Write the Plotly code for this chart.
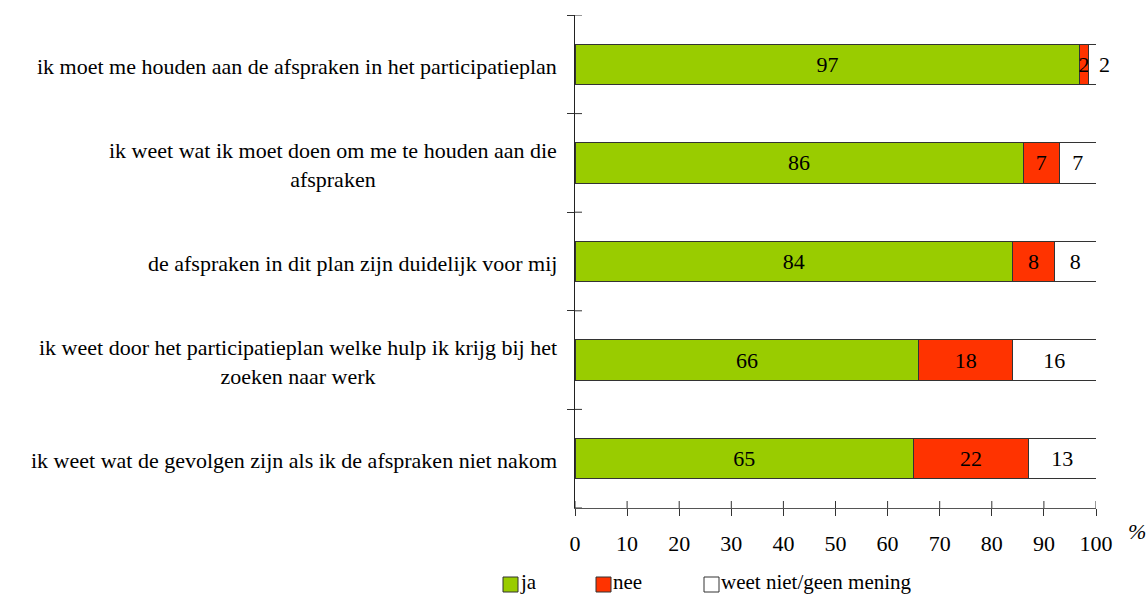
import plotly.graph_objects as go

categories = [
    "ik moet me houden aan de afspraken in het participatieplan",
    "ik weet wat ik moet doen om me te houden aan die<br>afspraken",
    "de afspraken in dit plan zijn duidelijk voor mij",
    "ik weet door het participatieplan welke hulp ik krijg bij het<br>zoeken naar werk",
    "ik weet wat de gevolgen zijn als ik de afspraken niet nakom",
]
ja = [96.9, 86, 84, 66, 65]
nee = [1.6, 7, 8, 18, 22]
weet = [1.5, 7, 8, 16, 13]
series_names = ["ja", "nee", "weet niet/geen mening"]
series_colors = ["#99CC00", "#FF3300", "#FFFFFF"]
x_ticks = [0, 10, 20, 30, 40, 50, 60, 70, 80, 90, 100]

FONT = "Times New Roman"
FS = 22
W, H = 1147, 594
L, R, T, B = 575, 51, 15, 86
PW, PH = W - L - R, H - T - B

fig = go.Figure()
for name, vals, col in zip(series_names, [ja, nee, weet], series_colors):
    # a label that does not fit a very thin final segment sits just past the bar end
    if name == series_names[-1]:
        pos = ["outside" if v < 3 else "inside" for v in vals]
    else:
        pos = "inside"
    fig.add_trace(go.Bar(
        y=categories, x=vals, orientation="h", name=name,
        marker=dict(color=col, line=dict(color="#333333", width=1)),
        width=0.41,
        text=[str(round(v)) for v in vals],
        textposition=pos, insidetextanchor="middle",
        constraintext="none", cliponaxis=False,
        textfont=dict(family=FONT, size=FS, color="black"),
        outsidetextfont=dict(family=FONT, size=FS, color="black"),
        showlegend=False, hoverinfo="skip",
    ))

fig.update_layout(
    barmode="stack",
    width=W, height=H,
    margin=dict(l=L, r=R, t=T, b=B),
    paper_bgcolor="white", plot_bgcolor="white",
    font=dict(family=FONT, size=FS, color="black"),
    xaxis=dict(range=[0, 100], tickvals=x_ticks, ticks="outside", ticklen=7,
               tickcolor="#333", showline=True, linecolor="#555", linewidth=1,
               showgrid=False, zeroline=False, ticklabelstandoff=9,
               tickfont=dict(family=FONT, size=FS)),
    yaxis=dict(type="category", categoryorder="array", categoryarray=categories,
               range=[4.5, -0.5], ticks="outside", ticklen=7, tickson="boundaries",
               tickcolor="#333", showline=True, linecolor="#222", linewidth=1,
               showgrid=False, zeroline=False, showticklabels=False),
)

# category labels (centre-aligned multi-line blocks, right-anchored to axis)
for c in categories:
    fig.add_annotation(x=0, xref="paper", y=c, yref="y", text=c, showarrow=False,
                       xanchor="right", xshift=-16, align="center", yshift=-2,
                       font=dict(family=FONT, size=FS))

# inner halves of crossing ticks
for t in x_ticks:
    fig.add_shape(type="line", xref="x", yref="paper", x0=t, x1=t, y0=0, y1=7 / PH,
                  line=dict(color="#333", width=1))
for i in range(len(categories) + 1):
    fig.add_shape(type="line", xref="paper", yref="y", x0=0, x1=7 / PW,
                  y0=i - 0.5, y1=i - 0.5, line=dict(color="#333", width=1))

# percent sign
fig.add_annotation(x=(1137 - L) / PW, xref="paper", y=-(531 - (H - B)) / PH, yref="paper",
                   text="<i>%</i>", showarrow=False, xanchor="center", yanchor="middle",
                   font=dict(family=FONT, size=FS))

# manual legend
leg_x = [503, 596, 704]
for name, col, px in zip(series_names, series_colors, leg_x):
    x0 = (px - L) / PW
    x1 = (px + 15 - L) / PW
    fig.add_shape(type="rect", xref="paper", yref="paper", x0=x0, x1=x1,
                  y0=-(577 - (H - B)) / PH, y1=-(592 - (H - B)) / PH,
                  fillcolor=col, line=dict(color="#333", width=1))
    fig.add_annotation(x=x1, xref="paper", y=-(582 - (H - B)) / PH, yref="paper",
                       text=name, showarrow=False, xanchor="left", yanchor="middle",
                       xshift=0, font=dict(family=FONT, size=21))

fig.write_html("out.html", config={"displayModeBar": False},
               post_script="document.body.style.margin='0';")
